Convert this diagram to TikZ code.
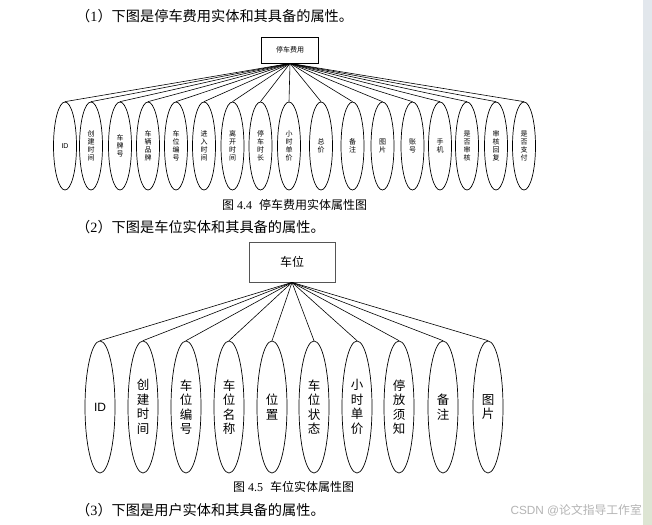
\documentclass[tikz,border=0pt]{standalone}
\usepackage{fontspec}
\setmainfont{Liberation Serif}
\setsansfont{Liberation Sans}
\newfontfamily\cjk{Noto Sans CJK SC}
\usepackage{tikz}
\usetikzlibrary{shapes.geometric, positioning}
\usepackage{xcolor}
\definecolor{cInk}{HTML}{000000}
\definecolor{cFrame}{HTML}{555555}
\definecolor{cMark}{HTML}{B4B4B4}
\definecolor{cBarTop}{HTML}{E2E7ED}
\definecolor{cBarBot}{HTML}{DDE5D3}
\tikzset{
  entbox/.style={
    draw=#1, line width=0.8pt, rectangle, inner sep=0pt,
    text=cInk, align=center,
  },
  entbox/.default=cInk,
  attrsmall/.style={
    draw=cInk, ellipse, line width=0.7pt, inner sep=0pt,
    minimum width=23, minimum height=88,
    font=\cjk\fontsize{7}{8}\selectfont, align=center,
  },
  attrbig/.style={
    draw=cInk, ellipse, line width=0.7pt, inner sep=0pt,
    minimum width=30, minimum height=132,
    font=\cjk\fontsize{12.5}{14.5}\selectfont, align=center,
  },
  link/.style={draw=cInk, line width=0.6pt},
  bodytext/.style={anchor=west, inner sep=0pt, font=\fontsize{14.2}{16}\selectfont},
  captext/.style={anchor=west, inner sep=0pt, font=\fontsize{12}{14}\selectfont},
}

\begin{document}
\begin{tikzpicture}[x=1pt, y=-1pt]

  \useasboundingbox (0,0) rectangle (652,524);
  \fill[white] (0,0) rectangle (652,524);
  \shade[top color=cBarTop, bottom color=cBarBot] (643,0) rectangle (652,524);

  % Paragraph texts
  \node[bodytext] (line1) at (76,16) {{\cjk （}1{\cjk ）下图是停车费用实体和其具备的属性。}};
  \node[captext] (cap1) at (222,205) {{\cjk 图} 4.4\hspace{7pt}{\cjk 停车费用实体属性图}};
  \node[bodytext] (line2) at (76,227) {{\cjk （}2{\cjk ）下图是车位实体和其具备的属性。}};
  \node[captext] (cap2) at (233,487) {{\cjk 图} 4.5\hspace{7pt}{\cjk 车位实体属性图}};
  \node[bodytext] (line3) at (76,510) {{\cjk （}3{\cjk ）下图是用户实体和其具备的属性。}};
  \node[anchor=east, inner sep=0pt, text=cMark, font=\sffamily\fontsize{11.8}{13}\selectfont]
    (mark) at (642,510) {CSDN @{\cjk 论文指导工作室}};

  % Parking fee entity
  \node[entbox, minimum width=57, minimum height=26, font=\cjk\fontsize{7}{8}\selectfont]
    (fee) at (290,50) {停车费用};

  \node[attrsmall, font=\sffamily\fontsize{7}{8}\selectfont] (f1) at (65,146) {ID};
  \node[attrsmall] (f2) at (91,146) {创\\建\\时\\间};
  \node[attrsmall] (f3) at (120,146) {车\\牌\\号};
  \node[attrsmall] (f4) at (148,146) {车\\辆\\品\\牌};
  \node[attrsmall] (f5) at (176,146) {车\\位\\编\\号};
  \node[attrsmall] (f6) at (204,146) {进\\入\\时\\间};
  \node[attrsmall] (f7) at (232.5,146) {离\\开\\时\\间};
  \node[attrsmall] (f8) at (260.5,146) {停\\车\\时\\长};
  \node[attrsmall] (f9) at (289,146) {小\\时\\单\\价};
  \node[attrsmall] (f10) at (321,146) {总\\价};
  \node[attrsmall] (f11) at (352.5,146) {备\\注};
  \node[attrsmall] (f12) at (382.5,146) {图\\片};
  \node[attrsmall] (f13) at (412.5,146) {账\\号};
  \node[attrsmall] (f14) at (440,146) {手\\机};
  \node[attrsmall] (f15) at (467,146) {是\\否\\审\\核};
  \node[attrsmall] (f16) at (496,146) {审\\核\\回\\复};
  \node[attrsmall] (f17) at (524,146) {是\\否\\支\\付};

  \draw[link] (fee.south) -- (f1.north);
  \draw[link] (fee.south) -- (f2.north);
  \draw[link] (fee.south) -- (f3.north);
  \draw[link] (fee.south) -- (f4.north);
  \draw[link] (fee.south) -- (f5.north);
  \draw[link] (fee.south) -- (f6.north);
  \draw[link] (fee.south) -- (f7.north);
  \draw[link] (fee.south) -- (f8.north);
  \draw[link] (fee.south) -- (f9.north);
  \draw[link] (fee.south) -- (f10.north);
  \draw[link] (fee.south) -- (f11.north);
  \draw[link] (fee.south) -- (f12.north);
  \draw[link] (fee.south) -- (f13.north);
  \draw[link] (fee.south) -- (f14.north);
  \draw[link] (fee.south) -- (f15.north);
  \draw[link] (fee.south) -- (f16.north);
  \draw[link] (fee.south) -- (f17.north);

  % Parking spot entity
  \node[entbox=cFrame, minimum width=86, minimum height=40, font=\cjk\fontsize{12}{14}\selectfont]
    (spot) at (292,262) {车位};

  \node[attrbig, font=\sffamily\fontsize{12}{14}\selectfont] (p1) at (100,407) {ID};
  \node[attrbig] (p2) at (143,407) {创\\建\\时\\间};
  \node[attrbig] (p3) at (186,407) {车\\位\\编\\号};
  \node[attrbig] (p4) at (229,407) {车\\位\\名\\称};
  \node[attrbig] (p5) at (272,407) {位\\置};
  \node[attrbig] (p6) at (314,407) {车\\位\\状\\态};
  \node[attrbig] (p7) at (357,407) {小\\时\\单\\价};
  \node[attrbig] (p8) at (399,407) {停\\放\\须\\知};
  \node[attrbig] (p9) at (443,407) {备\\注};
  \node[attrbig] (p10) at (488,407) {图\\片};

  \draw[link] (spot.south) -- (p1.north);
  \draw[link] (spot.south) -- (p2.north);
  \draw[link] (spot.south) -- (p3.north);
  \draw[link] (spot.south) -- (p4.north);
  \draw[link] (spot.south) -- (p5.north);
  \draw[link] (spot.south) -- (p6.north);
  \draw[link] (spot.south) -- (p7.north);
  \draw[link] (spot.south) -- (p8.north);
  \draw[link] (spot.south) -- (p9.north);
  \draw[link] (spot.south) -- (p10.north);

\end{tikzpicture}
\end{document}
